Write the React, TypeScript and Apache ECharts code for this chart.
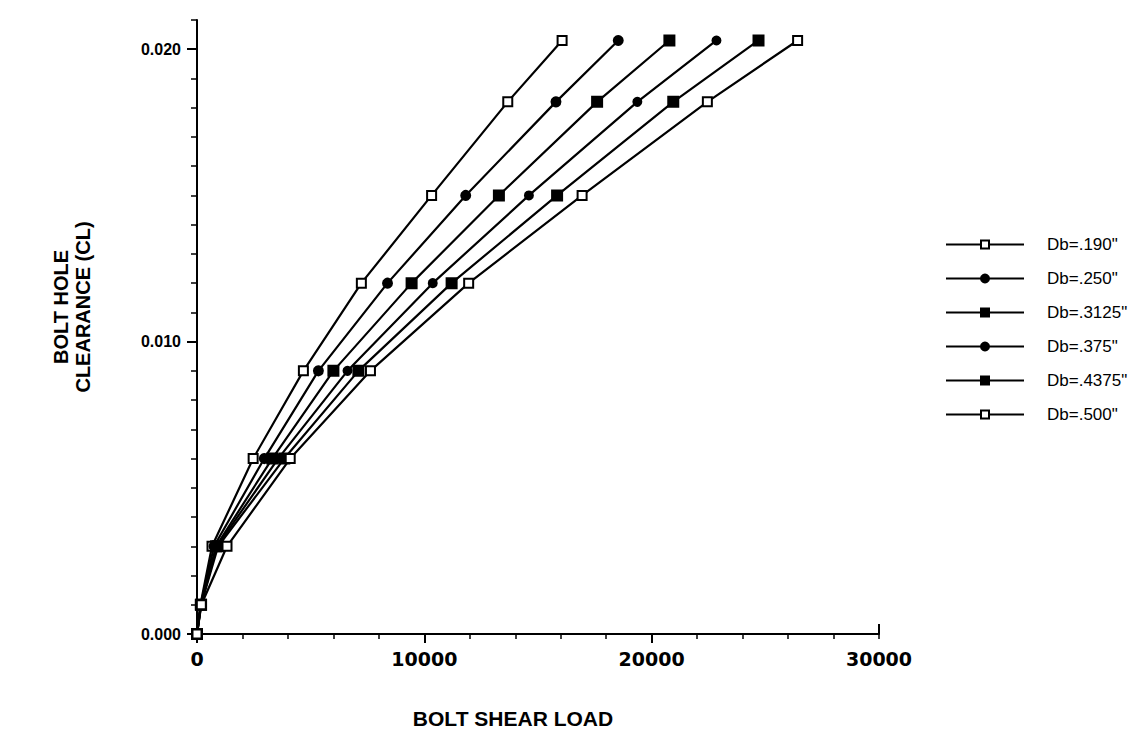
import React, { useEffect, useRef } from 'react';
import * as echarts from 'echarts';

// Bolt hole clearance levels (y) shared by every curve
const clearance = [0, 0.001, 0.003, 0.006, 0.009, 0.012, 0.015, 0.0182, 0.0203];
const seriesNames = ['Db=.190"', 'Db=.250"', 'Db=.3125"', 'Db=.375"', 'Db=.4375"', 'Db=.500"'];
// Bolt shear load (x) for each bolt diameter
const load190 = [0, 150, 660, 2470, 4680, 7230, 10320, 13670, 16060];
const load250 = [0, 160, 750, 2960, 5340, 8380, 11820, 15790, 18530];
const load3125 = [0, 170, 840, 3310, 6000, 9440, 13280, 17600, 20780];
const load375 = [0, 175, 880, 3570, 6620, 10370, 14600, 19370, 22850];
const load4375 = [0, 180, 930, 3840, 7100, 11200, 15840, 20950, 24700];
const load500 = [0, 190, 1320, 4100, 7630, 11950, 16940, 22450, 26420];
const xLabelTicks = [0, 10000, 20000, 30000];
const xMajorTicks = [0, 10000, 20000];
const yLabelTicks = [0, 0.01, 0.02];

const loads = [load190, load250, load3125, load375, load4375, load500];

const FONT = '"Liberation Sans", Arial, Helvetica, sans-serif';

const markerStyles = [
  { symbol: 'rect', size: 9, fill: '#ffffff' },
  { symbol: 'circle', size: 9, fill: '#000000' },
  { symbol: 'rect', size: 10, fill: '#000000' },
  { symbol: 'circle', size: 8, fill: '#000000' },
  { symbol: 'rect', size: 10, fill: '#000000' },
  { symbol: 'rect', size: 9, fill: '#ffffff' },
];

export default function App() {
  const ref = useRef<HTMLDivElement>(null);
  useEffect(() => {
    if (!ref.current) return;
    const chart = echarts.init(ref.current, undefined, { renderer: 'svg' });
    const series = seriesNames.map((name, i) => ({
      name,
      type: 'line',
      xAxisIndex: 0,
      yAxisIndex: 0,
      data: loads[i].map((x, k) => [x, clearance[k]]),
      symbol: markerStyles[i].symbol,
      symbolSize: markerStyles[i].size,
      showAllSymbol: true,
      lineStyle: { color: '#000', width: 2.2 },
      itemStyle: { color: markerStyles[i].fill, borderColor: '#000', borderWidth: 2 },
      emphasis: { disabled: true },
      z: 3,
    }));
    const boldLabel = { color: '#000', fontWeight: 'bold', fontFamily: FONT };
    chart.setOption({
      animation: false,
      backgroundColor: '#ffffff',
      grid: { left: 197, right: 258, top: 20, bottom: 97, containLabel: false },
      legend: {
        orient: 'vertical',
        left: 940,
        top: 231,
        itemWidth: 78,
        itemHeight: 10,
        itemGap: 17,
        textStyle: { color: '#000', fontSize: 17, fontFamily: FONT, padding: [0, 0, 0, 18] },
        data: seriesNames,
      },
      xAxis: [
        {
          type: 'value', position: 'bottom', min: 0, max: 30000, interval: 2000,
          axisLine: { show: true, lineStyle: { color: '#000', width: 2 } },
          axisTick: { show: true, length: 5, lineStyle: { color: '#000', width: 1.5 } },
          axisLabel: { show: false },
          splitLine: { show: false },
        },
        {
          type: 'value', position: 'bottom', min: 0, max: 30000, interval: 10000,
          axisLine: { show: false },
          axisTick: { show: true, length: 9, customValues: xMajorTicks, lineStyle: { color: '#000', width: 2 } },
          axisLabel: {
            ...boldLabel, fontSize: 19, fontFamily: '"DejaVu Sans", sans-serif', margin: 15,
            customValues: xLabelTicks, formatter: (v: number) => String(v),
          },
          splitLine: { show: false },
          name: 'BOLT SHEAR LOAD',
          nameLocation: 'middle',
          nameGap: 74,
          nameTextStyle: { ...boldLabel, fontSize: 21, padding: [0, 50, 0, 0] },
        },
        {
          type: 'value', position: 'bottom', min: 0, max: 30000,
          axisLine: { show: false },
          axisTick: { show: true, inside: true, length: 10, customValues: [30000], lineStyle: { color: '#000', width: 2 } },
          axisLabel: { show: false },
          splitLine: { show: false },
        },
      ],
      yAxis: [
        {
          type: 'value', position: 'left', min: 0, max: 0.021, interval: 0.001,
          axisLine: { show: true, lineStyle: { color: '#000', width: 2 } },
          axisTick: { show: true, length: 6, lineStyle: { color: '#000', width: 1.5 } },
          axisLabel: { show: false },
          splitLine: { show: false },
        },
        {
          type: 'value', position: 'left', min: 0, max: 0.021, interval: 0.01,
          axisLine: { show: false },
          axisTick: { show: true, length: 10, customValues: yLabelTicks, lineStyle: { color: '#000', width: 2 } },
          axisLabel: {
            ...boldLabel, fontSize: 16, margin: 16, customValues: yLabelTicks,
            formatter: (v: number) => v.toFixed(3),
          },
          splitLine: { show: false },
          name: 'BOLT HOLE\nCLEARANCE (CL)',
          nameLocation: 'middle',
          nameRotate: 90,
          nameGap: 103,
          nameTextStyle: { ...boldLabel, fontSize: 20, lineHeight: 22, align: 'center', padding: [0, 0, 0, 40] },
        },
      ],
      series,
    });
    return () => chart.dispose();
  }, []);
  return (
    <div
      ref={ref}
      style={{ position: 'fixed', left: 0, top: 0, width: 1137, height: 734, background: '#fff' }}
    />
  );
}
